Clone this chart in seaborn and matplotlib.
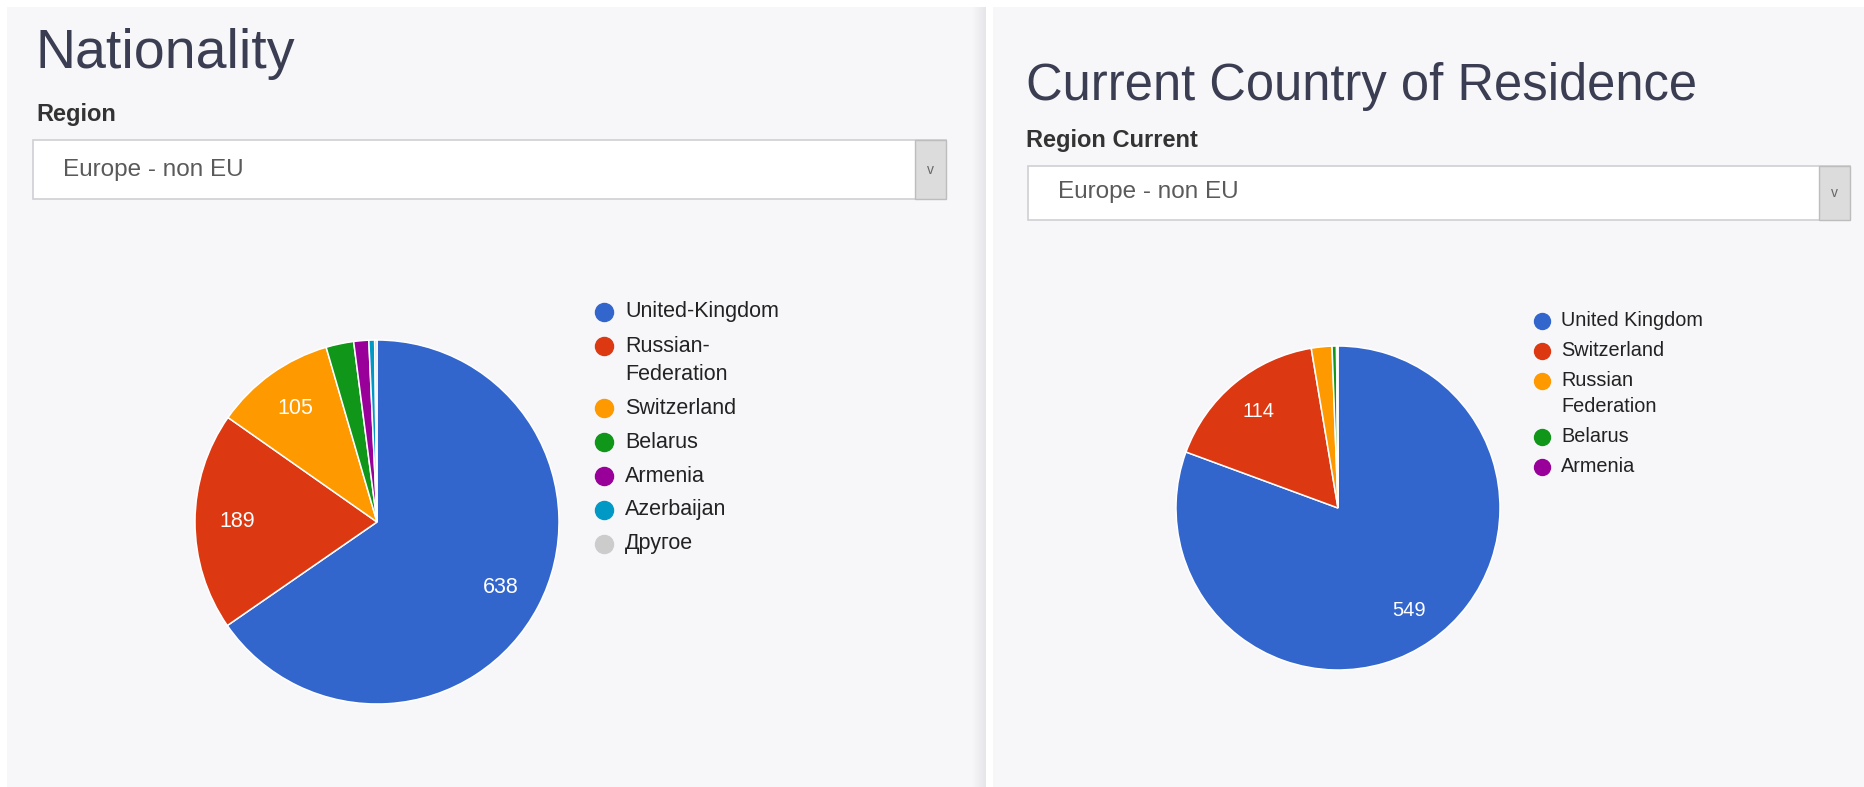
import numpy as np
import matplotlib
matplotlib.use('Agg')
import matplotlib.pyplot as plt
import seaborn as sns
from matplotlib.patches import Rectangle

# data
nat_labels = ['United-Kingdom', 'Russian-\nFederation', 'Switzerland', 'Belarus',
              'Armenia', 'Azerbaijan', 'Другое']
nat_values = [638, 189, 105, 24, 13, 5, 2]

res_labels = ['United Kingdom', 'Switzerland', 'Russian\nFederation', 'Belarus', 'Armenia']
res_values = [549, 114, 14, 3, 1]

google_colors = ['#3366cc', '#dc3912', '#ff9900', '#109618', '#990099', '#0099c6', '#cccccc']

sns.set_theme(style='white')
plt.rcParams['font.family'] = ['Liberation Sans', 'DejaVu Sans']

W, H = 1865, 787
fig = plt.figure(figsize=(W / 100, H / 100), dpi=100, facecolor='white')

# background axes in pixel coordinates (y downwards)
bg = fig.add_axes([0, 0, 1, 1])
bg.set_xlim(0, W)
bg.set_ylim(H, 0)
bg.axis('off')

panel_col = '#f7f7fa'
bg.add_patch(Rectangle((7, 7), 979, H, color=panel_col, lw=0))
bg.add_patch(Rectangle((993, 7), W - 993, H, color=panel_col, lw=0))
# soft shadow next to the divider
grad = np.linspace(0, 1, 50).reshape(1, -1)
bg.imshow(grad, extent=(972, 986, H, 7), cmap=sns.blend_palette([panel_col, '#e6e6ea'], as_cmap=True),
          aspect='auto', zorder=1)
bg.set_xlim(0, W)
bg.set_ylim(H, 0)

title_col = '#3b3e52'


def draw_header(x0, title, title_y, title_fs, label, label_y, label_fs, box, box_text_y):
    bg.text(x0, title_y, title, fontsize=title_fs, color=title_col, va='baseline', ha='left')
    bg.text(x0, label_y, label, fontsize=label_fs, color='#333333', fontweight='bold',
            va='baseline', ha='left')
    bx0, by0, bx1, by1 = box
    bg.add_patch(Rectangle((bx0, by0), bx1 - bx0, by1 - by0, facecolor='white',
                           edgecolor='#cfcfd4', lw=1.2, zorder=2))
    bg.add_patch(Rectangle((bx1 - 31, by0), 31, by1 - by0, facecolor='#dcdcdc',
                           edgecolor='#bdbdbd', lw=1.0, zorder=3))
    bg.text(bx1 - 15.5, (by0 + by1) / 2, 'v', fontsize=10, color='#666666',
            ha='center', va='center', zorder=4)
    bg.text(bx0 + 30, box_text_y, 'Europe - non EU', fontsize=17.5, color='#5a5a5a',
            va='center', ha='left', zorder=4)


draw_header(36, 'Nationality', 68, 40, 'Region', 121, 17, (33, 140, 946, 199), 170)
draw_header(1026, 'Current Country of Residence', 100, 36.5, 'Region Current', 147, 17,
            (1028, 166, 1850, 220), 192)


def draw_pie(cx, cy, r, values, fs):
    ax = fig.add_axes([(cx - r) / W, (H - cy - r) / H, 2 * r / W, 2 * r / H])
    total = sum(values)

    def fmt(pct):
        return f'{int(round(pct * total / 100))}' if pct > 8 else ''

    ax.pie(values, colors=google_colors[:len(values)], startangle=90, counterclock=False,
           wedgeprops=dict(edgecolor='white', linewidth=1.1),
           autopct=fmt, pctdistance=0.77,
           textprops=dict(color='white', fontsize=fs))
    ax.set_xlim(-1, 1)
    ax.set_ylim(-1, 1)
    ax.set_aspect('equal')
    ax.axis('off')
    return ax


draw_pie(377, 522, 182, nat_values, 15.5)
draw_pie(1338, 508, 162, res_values, 14.5)


def draw_legend(mx, tx, y0, step, wrap, labels, fs, ms):
    y = y0
    for i, lab in enumerate(labels):
        bg.plot([mx], [y], 'o', color=google_colors[i], markersize=ms, zorder=5)
        for j, line in enumerate(lab.split('\n')):
            bg.text(tx, y + j * wrap, line, fontsize=fs, color='#222222', va='center', ha='left')
        y += step + wrap * lab.count('\n')


draw_legend(604, 625, 312, 34, 28, nat_labels, 15.5, 13)
draw_legend(1542, 1561, 321, 30, 26, res_labels, 14.3, 11.5)

fig.savefig('out.png', dpi=100, facecolor='white')
